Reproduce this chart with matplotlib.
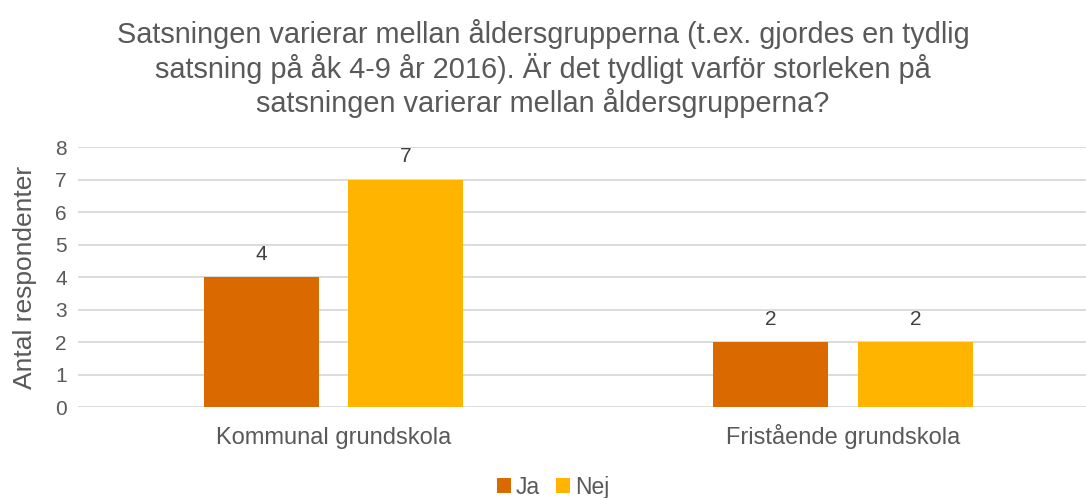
import numpy as np
import matplotlib
matplotlib.use('Agg')
import matplotlib.pyplot as plt

categories = ['Kommunal grundskola', 'Fristående grundskola']
ja = [4, 2]
nej = [7, 2]
series_names = ['Ja', 'Nej']
title = ('Satsningen varierar mellan åldersgrupperna (t.ex. gjordes en tydlig\n'
         'satsning på åk 4-9 år 2016). Är det tydligt varför storleken på\n'
         'satsningen varierar mellan åldersgrupperna?')

plt.rcParams['font.family'] = ['Liberation Sans', 'DejaVu Sans']
txt = '#595959'

fig = plt.figure(figsize=(10.86, 4.98), dpi=100)
ax = fig.add_axes([0.0718, 0.1827, 0.9282, 0.5221])

x = np.arange(len(categories))
w = 0.2257
b1 = ax.bar(x - 0.142, ja, w, color='#DA6A00', label=series_names[0], zorder=3)
b2 = ax.bar(x + 0.142, nej, w, color='#FFB500', label=series_names[1], zorder=3)
for bars in (b1, b2):
    for r in bars:
        ax.annotate(str(int(r.get_height())), (r.get_x() + r.get_width() / 2, r.get_height()),
                    xytext=(0, 9.5), textcoords='offset points', ha='center', va='bottom',
                    fontsize=15, color='#404040')

ax.set_xlim(-0.5015, 1.477)
ax.set_ylim(0, 8)
ax.set_yticks(range(0, 9))
ax.set_xticks(x)
ax.set_xticklabels(categories, va='baseline')
ax.tick_params(axis='both', length=0, colors=txt)
ax.tick_params(axis='x', labelsize=17, pad=26.6)
ax.tick_params(axis='y', labelsize=15, pad=8)
ax.yaxis.grid(True, color='#D9D9D9', linewidth=1.3, zorder=0)
for s in ax.spines.values():
    s.set_visible(False)
ax.set_ylabel('Antal respondenter', fontsize=19, color=txt, labelpad=13)

fig.suptitle(title, fontsize=20.8, color=txt, y=0.961, linespacing=1.15)

fig.legend(loc='center', bbox_to_anchor=(553 / 1086, 1 - 487 / 498), ncol=2, frameon=False,
           fontsize=16.5, labelcolor=txt, handlelength=0.6, handleheight=0.6,
           handletextpad=0.22, columnspacing=0.7)

fig.savefig('out.png', dpi=100)
